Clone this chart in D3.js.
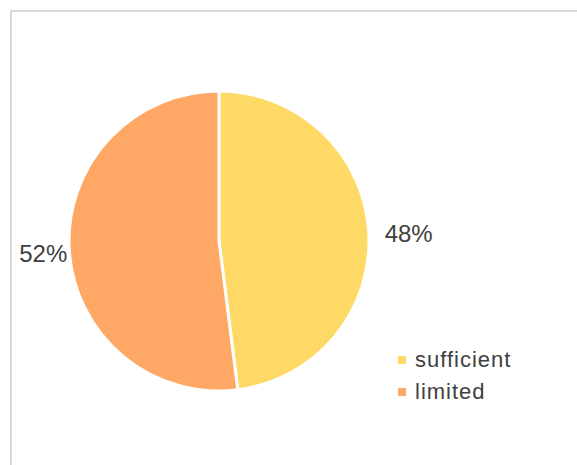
<!DOCTYPE html>
<html>
<head>
<meta charset="utf-8">
<script src="https://cdn.jsdelivr.net/npm/d3@7"></script>
<style>
  body { margin: 0; background: #fff; }
  svg { display: block; }
  text { font-family: "Liberation Sans", Arial, sans-serif; fill: #404040; }
</style>
</head>
<body>
<svg width="577" height="465"></svg>
<script>
// data
const categories = ["sufficient", "limited"];
const shares = [48, 52];
const colors = ["#FFD966", "#FFA865"];

const svg = d3.select("svg");

// chart frame (right & bottom edges run off the picture)
svg.append("rect")
    .attr("x", 11).attr("y", 11)
    .attr("width", 580).attr("height", 470)
    .attr("fill", "#fff")
    .attr("stroke", "#d9d9d9")
    .attr("stroke-width", 2);

const cx = 219, cy = 241, radius = 150;

const pie = d3.pie().sort(null).value(d => d.value);
const arcs = pie(categories.map((c, i) => ({ name: c, value: shares[i], color: colors[i] })));

const arc = d3.arc().innerRadius(0).outerRadius(radius);

const g = svg.append("g").attr("transform", `translate(${cx},${cy})`);

g.selectAll("path")
    .data(arcs)
    .enter().append("path")
    .attr("d", arc)
    .attr("fill", d => d.data.color)
    .attr("stroke", "#fff")
    .attr("stroke-width", 3);

// percent labels outside the pie, anchored away from it
const rightArc = d3.arc().innerRadius(166).outerRadius(166);
const leftArc = d3.arc().innerRadius(152).outerRadius(152);
const onRight = d => (d.startAngle + d.endAngle) / 2 < Math.PI;
g.selectAll(".pct")
    .data(arcs)
    .enter().append("text")
    .attr("class", "pct")
    .attr("x", d => (onRight(d) ? rightArc : leftArc).centroid(d)[0])
    .attr("y", d => (onRight(d) ? rightArc : leftArc).centroid(d)[1] + 3)
    .attr("dy", "0.35em")
    .attr("text-anchor", d => onRight(d) ? "start" : "end")
    .style("font-size", "24px")
    .text(d => d.data.value + "%");

// legend
const legend = svg.append("g").attr("transform", "translate(398,356)");
const item = legend.selectAll("g")
    .data(categories)
    .enter().append("g")
    .attr("transform", (d, i) => `translate(0,${i * 32})`);

item.append("rect")
    .attr("width", 8).attr("height", 8)
    .attr("fill", (d, i) => colors[i]);

item.append("text")
    .attr("x", 17)
    .attr("y", 3)
    .attr("dy", "0.35em")
    .style("font-size", "22px")
    .style("letter-spacing", "1px")
    .text(d => d);
</script>
</body>
</html>
